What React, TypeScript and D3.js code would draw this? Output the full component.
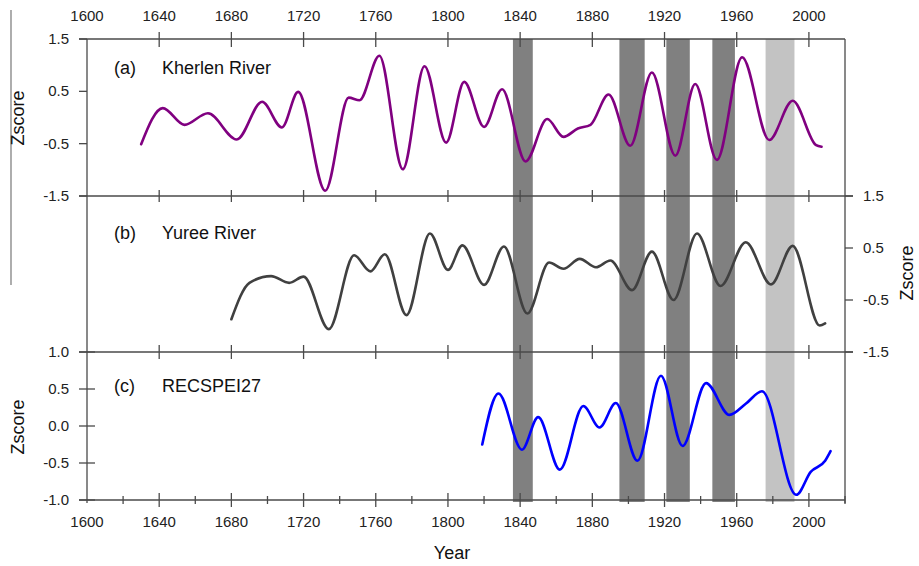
import * as d3 from 'd3'
import { useEffect, useRef } from 'react'

const kherlenYears = [1630, 1642, 1654, 1667, 1683, 1697, 1708, 1717, 1732, 1745, 1751, 1762, 1775, 1787, 1799, 1809, 1820, 1830, 1843, 1855, 1864, 1872, 1879, 1889, 1901, 1913, 1926, 1937, 1949, 1963, 1978, 1991, 2004, 2007]
const kherlenValues = [-0.51, 0.18, -0.14, 0.08, -0.42, 0.30, -0.19, 0.49, -1.40, 0.38, 0.33, 1.18, -0.99, 0.98, -0.48, 0.68, -0.18, 0.54, -0.84, -0.03, -0.37, -0.21, -0.14, 0.44, -0.54, 0.86, -0.73, 0.64, -0.81, 1.15, -0.43, 0.32, -0.53, -0.56]

const yureeYears = [1680, 1690, 1702, 1712, 1720, 1734, 1748, 1757, 1765, 1777, 1790, 1800, 1808, 1820, 1831, 1844, 1856, 1864, 1873, 1882, 1890, 1902, 1913, 1925, 1938, 1951, 1965, 1979, 1991, 2006, 2009]
const yureeValues = [-0.87, -0.17, -0.04, -0.17, -0.05, -1.06, 0.36, 0.05, 0.38, -0.79, 0.78, 0.08, 0.55, -0.21, 0.53, -0.76, 0.22, 0.10, 0.29, 0.13, 0.26, -0.31, 0.43, -0.50, 0.78, -0.23, 0.61, -0.20, 0.54, -0.99, -0.95]

const speiYears = [1819, 1828, 1841, 1850, 1862, 1875, 1884, 1893, 1905, 1918, 1930, 1943, 1956, 1965, 1974, 1993, 2001, 2009, 2012]
const speiValues = [-0.25, 0.44, -0.32, 0.12, -0.59, 0.27, -0.02, 0.31, -0.47, 0.68, -0.27, 0.58, 0.15, 0.30, 0.47, -0.93, -0.62, -0.47, -0.34]

const darkBands: [number, number][] = [[1836, 1847], [1895, 1909], [1921, 1934], [1946.5, 1959]]
const lightBands: [number, number][] = [[1976, 1992]]

const yearTicks = [1600, 1640, 1680, 1720, 1760, 1800, 1840, 1880, 1920, 1960, 2000]
const minorYearTicks = [1620, 1660, 1700, 1740, 1780, 1820, 1860, 1900, 1940, 1980, 2020]
const abTicks = [1.5, 0.5, -0.5, -1.5]
const cTicks = [1.0, 0.5, 0.0, -0.5, -1.0]

const FONT = '"Liberation Sans", Arial, sans-serif'
const AXIS = '#4a4a4a'

const drawChart = (el: SVGSVGElement) => {
    const svg = d3.select(el)
    svg.selectAll('*').remove()

    const left = 87, right = 845
    const x = d3.scaleLinear().domain([1600, 2020]).range([left, right])
    const yA = d3.scaleLinear().domain([-1.5, 1.5]).range([196, 39])
    const yB = d3.scaleLinear().domain([-1.5, 1.5]).range([352, 196])
    const yC = d3.scaleLinear().domain([-1.0, 1.0]).range([500, 352])

    // shaded periods
    const bands = svg.append('g')
    darkBands.forEach(([a, b]) => {
        bands.append('rect').attr('x', x(a)).attr('width', x(b) - x(a))
            .attr('y', 39).attr('height', 463).attr('fill', '#808080')
    })
    lightBands.forEach(([a, b]) => {
        bands.append('rect').attr('x', x(a)).attr('width', x(b) - x(a))
            .attr('y', 39).attr('height', 463).attr('fill', '#c3c3c3')
    })

    // frame lines
    const frame = svg.append('g').attr('stroke', AXIS).attr('stroke-width', 1.3)
    frame.append('line').attr('x1', 79).attr('x2', right).attr('y1', 39).attr('y2', 39)
    frame.append('line').attr('x1', 79).attr('x2', 853).attr('y1', 196).attr('y2', 196)
    frame.append('line').attr('x1', 79).attr('x2', 853).attr('y1', 352).attr('y2', 352)
    frame.append('line').attr('x1', 79).attr('x2', right).attr('y1', 500).attr('y2', 500)
    frame.append('line').attr('x1', left).attr('x2', left).attr('y1', 39).attr('y2', 503)
    frame.append('line').attr('x1', right).attr('x2', right).attr('y1', 39).attr('y2', 503)
    // stray line on the far left
    svg.append('line').attr('x1', 11).attr('x2', 11).attr('y1', 10).attr('y2', 285)
        .attr('stroke', '#777').attr('stroke-width', 1.2)

    // year ticks on each horizontal line
    const ticks = svg.append('g').attr('stroke', AXIS).attr('stroke-width', 1.3)
    yearTicks.filter(t => t > 1600).forEach(t => {
        ticks.append('line').attr('x1', x(t)).attr('x2', x(t)).attr('y1', 32).attr('y2', 47)
        ticks.append('line').attr('x1', x(t)).attr('x2', x(t)).attr('y1', 190).attr('y2', 202)
        ticks.append('line').attr('x1', x(t)).attr('x2', x(t)).attr('y1', 345).attr('y2', 359)
        ticks.append('line').attr('x1', x(t)).attr('x2', x(t)).attr('y1', 493).attr('y2', 507)
    })
    minorYearTicks.forEach(t => {
        ticks.append('line').attr('x1', x(t)).attr('x2', x(t)).attr('y1', 496).attr('y2', 504)
    })

    // y ticks
    abTicks.forEach(v => {
        ticks.append('line').attr('x1', 79).attr('x2', left).attr('y1', yA(v)).attr('y2', yA(v))
        ticks.append('line').attr('x1', right).attr('x2', 853).attr('y1', yB(v)).attr('y2', yB(v))
    })
    cTicks.forEach(v => {
        ticks.append('line').attr('x1', 79).attr('x2', 95).attr('y1', yC(v)).attr('y2', yC(v))
    })

    const labels = svg.append('g').attr('font-family', FONT).attr('font-size', 15).attr('fill', '#222')
    yearTicks.forEach(t => {
        labels.append('text').attr('x', x(t)).attr('y', 21).attr('text-anchor', 'middle').text(t)
        labels.append('text').attr('x', x(t)).attr('y', 527).attr('text-anchor', 'middle').text(t)
    })
    abTicks.forEach(v => {
        labels.append('text').attr('x', 69).attr('y', yA(v) + 5).attr('text-anchor', 'end').text(v.toFixed(1))
        labels.append('text').attr('x', 863).attr('y', yB(v) + 5).attr('text-anchor', 'start').text(v.toFixed(1))
    })
    cTicks.forEach(v => {
        labels.append('text').attr('x', 69).attr('y', yC(v) + 5).attr('text-anchor', 'end').text(v.toFixed(1))
    })

    const titles = svg.append('g').attr('font-family', FONT).attr('font-size', 18).attr('fill', '#111')
    titles.append('text').attr('transform', 'translate(24,118) rotate(-90)').attr('text-anchor', 'middle').text('Zscore')
    titles.append('text').attr('transform', 'translate(24,427) rotate(-90)').attr('text-anchor', 'middle').text('Zscore')
    titles.append('text').attr('transform', 'translate(913,273) rotate(-90)').attr('text-anchor', 'middle').text('Zscore')
    titles.append('text').attr('x', 452).attr('y', 559).attr('text-anchor', 'middle').text('Year')

    const panels: [string, string, number][] = [['(a)', 'Kherlen River', 74], ['(b)', 'Yuree River', 239], ['(c)', 'RECSPEI27', 392]]
    panels.forEach(([tag, name, y]) => {
        titles.append('text').attr('x', 114).attr('y', y).text(tag)
        titles.append('text').attr('x', 162).attr('y', y).text(name)
    })

    const series: [number[], number[], d3.ScaleLinear<number, number>, string][] = [
        [kherlenYears, kherlenValues, yA, '#800080'],
        [yureeYears, yureeValues, yB, '#404040'],
        [speiYears, speiValues, yC, '#0000ff'],
    ]
    series.forEach(([yrs, vals, y, color]) => {
        const line = d3.line<number>()
            .x((_, i) => x(yrs[i]))
            .y(d => y(d))
            .curve(d3.curveMonotoneX)
        svg.append('path')
            .datum(vals)
            .attr('fill', 'none')
            .attr('stroke', color)
            .attr('stroke-width', 2.6)
            .attr('stroke-linejoin', 'round')
            .attr('stroke-linecap', 'round')
            .attr('d', line)
    })
}

const App = () => {
    const ref = useRef<SVGSVGElement>(null)

    useEffect(() => {
        if (ref.current) drawChart(ref.current)
    }, [])

    return (
        <svg ref={ref} width={919} height={566}
            style={{ position: 'absolute', left: 0, top: 0, background: '#fff' }} />
    )
}

export default App
